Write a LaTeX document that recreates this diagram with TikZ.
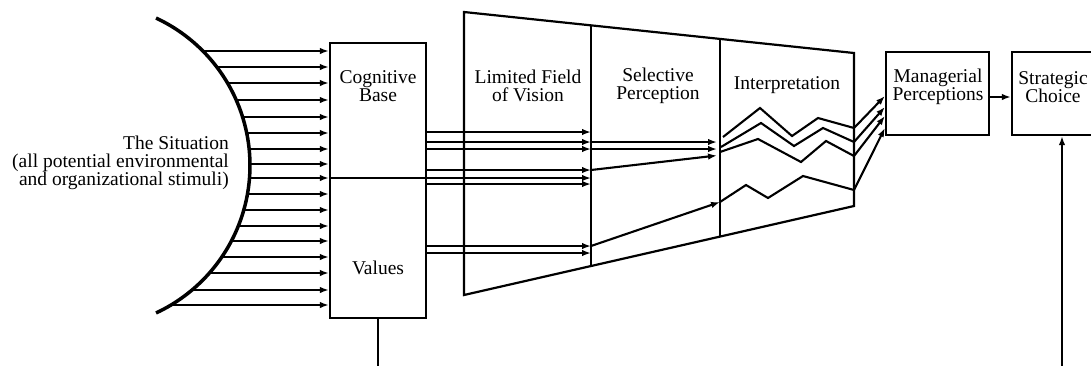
\documentclass[tikz,border=0pt]{standalone}
\usepackage{fontspec}
\setmainfont{Liberation Serif}
\usetikzlibrary{arrows.meta}
\begin{document}
\begin{tikzpicture}[x=1pt,y=-1pt,
  ln/.style={line width=2.1pt},
  arr/.style={ln,-{Latex[length=9pt,width=6.5pt]}},
  box/.style={draw,line width=2.2pt,inner sep=0pt},
  lbl/.style={font=\fontsize{19.5}{18}\selectfont,align=center,inner sep=0pt}]
\useasboundingbox (0,0) rectangle (1091,365);
\clip (0,0) rectangle (1091,365);
% boxes
\node[box,minimum width=96pt,minimum height=275pt] (cb) at (378,180.5) {};
\node[box,minimum width=103pt,minimum height=83pt] (mp) at (937.5,93.5) {};
\node[box,minimum width=90pt,minimum height=83pt] (sc) at (1057,93.5) {};
% funnel
\coordinate (T1) at (464,12);
\coordinate (T4) at (854,53);
\coordinate (B4) at (854,206);
\coordinate (B1) at (464,295);
\coordinate (d1t) at (591,25.35);
\coordinate (d1b) at (591,266);
\coordinate (d2t) at (720,38.9);
\coordinate (d2b) at (720,236.6);
\draw[line width=2.2pt,line join=miter] (T1) -- (T4) -- (B4) -- (B1) -- cycle;
\draw[ln] (d1t) -- (d1b);
\draw[ln] (d2t) -- (d2b);
% labels
\node[lbl] (tcb) at (378,86) {Cognitive\\Base};
\node[lbl] (tval) at (378,268) {Values};
\node[lbl] (tlf) at (528,86) {Limited Field\\of Vision};
\node[lbl] (tsp) at (658,86) {Selective\\Perception};
\node[lbl] (tint) at (787,85) {Interpretation};
\node[lbl] (tmp) at (938,87) {Managerial\\Perceptions};
\node[lbl] (tsc) at (1053,87) {Strategic\\Choice};
\node[lbl,align=right,anchor=east] (tsit) at (229,163) {The Situation\\(all potential environmental\\and organizational stimuli)};
% situation arc
\draw[line width=3.5pt] plot[domain=-65:65,samples=90] ({87.3+162.7*cos(\x)},{165.5+162.7*sin(\x)});
% stimuli arrows
\foreach \y in {51,67,83,100,117,133,149,164,178,194,210,226,241,257,273,290,305}{
  \coordinate (s\y) at ({87.3+10*sqrt(264.7-((\y-165.5)/10)^2)},\y);
  \draw[arr] (s\y) -- (s\y -| cb.west);
}
% divider of cognitive base continuing
\draw[arr] (s178 -| cb.west) -- (s178 -| d1t);
% cognitive base to limited field divider
\foreach \y in {132,142,149,170,184,246,253}{
  \draw[arr] (cb.east |- 0,\y) -- (d1t |- 0,\y);
}
% selective perception
\foreach \y in {142,149}{
  \draw[arr] (d1t |- 0,\y) -- ([xshift=-3pt]d2t |- 0,\y);
}
\draw[arr] (d1t |- 0,170) -- (717,155.5);
\draw[arr] (d1t |- 0,246) -- (d2t |- 0,202);
% interpretation zigzags
\coordinate (e1) at (854,128);
\coordinate (e2) at (854,142);
\coordinate (e3) at (854,156);
\coordinate (e4) at (854,190);
\draw[ln,line join=miter] (723,137) -- (760,108) -- (792,136) -- (818,118) -- (e1);
\draw[ln,line join=miter] (721,147) -- (761,123) -- (794,146) -- (823,128) -- (e2);
\draw[ln,line join=miter] (720,152) -- (758,139) -- (801,162) -- (826,141) -- (e3);
\draw[ln,line join=miter] (d2t |- 0,202) -- (746,185) -- (768,198) -- (803,176) -- (e4);
% to managerial perceptions
\draw[arr] (e1) -- (mp.west |- 0,96);
\draw[arr] (e2) -- (mp.west |- 0,107);
\draw[arr] (e3) -- (mp.west |- 0,116);
\draw[arr] (e4) -- (mp.west |- 0,128);
% managerial -> strategic
\draw[arr] ([yshift=-3.5pt]mp.east) -- ([yshift=-3.5pt]sc.west);
% bottom lines
\coordinate (bl) at (378,366);
\draw[ln] (cb.south) -- (bl);
\coordinate (br) at (1062,366);
\draw[arr] (br) -- (br |- sc.south);
\end{tikzpicture}
\end{document}
